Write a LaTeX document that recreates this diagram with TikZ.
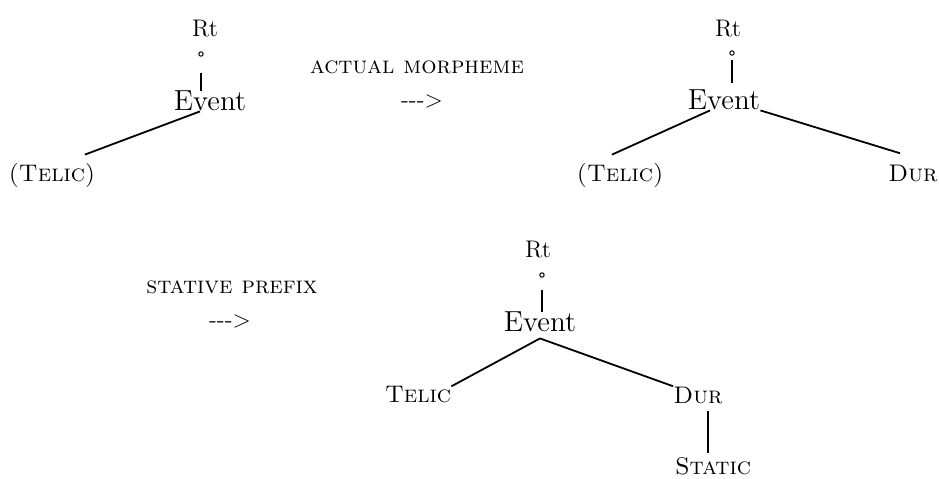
\documentclass[tikz,border=0pt]{standalone}
\begin{document}
\begin{tikzpicture}[x=0.5pt,y=-0.5pt,
    word/.style={inner sep=0pt, font=\fontsize{14.5}{17}\selectfont},
    root/.style={inner sep=0pt, font=\fontsize{12}{14}\selectfont},
    feat/.style={inner sep=0pt, font=\fontsize{12}{14}\selectfont\scshape},
    hook/.style={draw, circle, inner sep=0pt, minimum size=2.2pt, line width=0.5pt},
    branch/.style={line width=0.9pt}]
    \useasboundingbox (0,0) rectangle (939,478);

    \node[root] (rt1) at (205,29) {Rt};
    \node[hook] (dot1) at (201,54) {};
    \node[word] (ev1) at (210,101) {Event};
    \node[feat] (tel1) at (52,175) {(Telic)};
    \draw[branch] ([yshift=-8pt]dot1.south) -- (dot1.south |- ev1.north);
    \draw[branch] ([xshift=-5pt]ev1.south) -- ([shift={(-5.5pt,4pt)}]tel1.north east);

    \node[feat] (act) at (417,67) {actual morpheme};
    \node[root] (go1) at (422,102) {-{}-{}->};

    \node[root] (rt2) at (728,29) {Rt};
    \node[hook] (dot2) at (732,53) {};
    \node[word] (ev2) at (724,100) {Event};
    \node[feat] (tel2) at (620,175) {(Telic)};
    \node[feat] (dur2) at (913,173) {Dur};
    \draw[branch] ([yshift=-2pt]dot2.south) -- ([yshift=3.5pt]dot2.south |- ev2.north);
    \draw[branch] ([xshift=-7pt]ev2.south) -- ([shift={(-4pt,4pt)}]tel2.north);
    \draw[branch] (ev2.south east) -- ([shift={(-6.5pt,5.5pt)}]dur2.north);

    \node[feat] (stv) at (232,287) {stative prefix};
    \node[root] (go2) at (230,322) {-{}-{}->};

    \node[root] (rt3) at (538,250) {Rt};
    \node[hook] (dot3) at (542,275) {};
    \node[word] (ev3) at (540,322) {Event};
    \node[feat] (tel3) at (418,395) {Telic};
    \node[feat] (dur3) at (698,395) {Dur};
    \node[feat] (sta3) at (713,466) {Static};
    \draw[branch] ([yshift=-6pt]dot3.south) -- (dot3.south |- ev3.north);
    \draw[branch] ([yshift=-3pt]ev3.south) -- (tel3.north east);
    \draw[branch] ([yshift=-3pt]ev3.south) -- (dur3.north west);
    \draw[branch] ([shift={(5pt,-3.5pt)}]dur3.south) -- ([shift={(-2.5pt,2pt)}]sta3.north);
  \end{tikzpicture}
\end{document}
